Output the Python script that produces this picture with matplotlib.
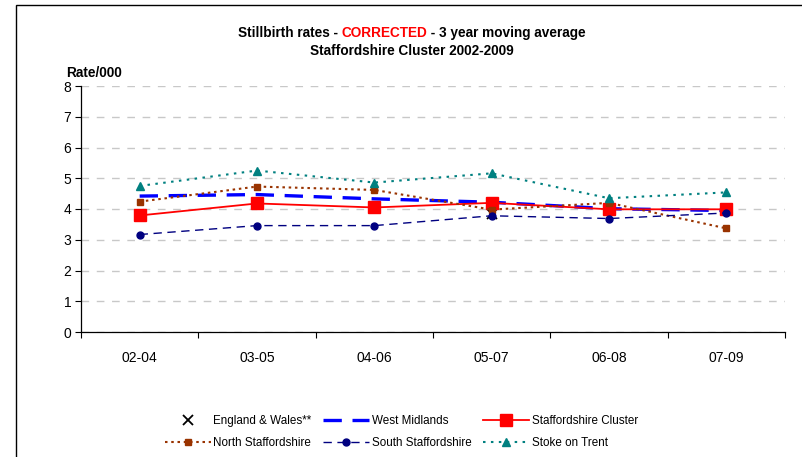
import numpy as np
import matplotlib
matplotlib.use("Agg")
import matplotlib.pyplot as plt
from matplotlib.patches import Rectangle

plt.rcParams["font.family"] = ["Liberation Sans", "DejaVu Sans"]

periodos = ["02-04", "03-05", "04-06", "05-07", "06-08", "07-09"]

england_wales = [np.nan, np.nan, np.nan, 3.85, np.nan, np.nan]
west_midlands = [4.42, 4.47, 4.33, 4.22, 4.01, 3.95]
staffs_cluster = [3.79, 4.18, 4.05, 4.20, 3.99, 3.99]
north_staffs = [4.24, 4.73, 4.62, 3.98, 4.20, 3.37]
south_staffs = [3.17, 3.46, 3.46, 3.78, 3.69, 3.87]
stoke = [4.75, 5.25, 4.86, 5.16, 4.35, 4.54]

W, H = 803, 457
fig = plt.figure(figsize=(W / 100, H / 100), dpi=100)

# marco exterior del gráfico (recortado a la derecha y abajo)
fig.patches.append(Rectangle((16 / W, -0.1), 1.2, 1.1 - 5 / H, transform=fig.transFigure,
                             fill=False, edgecolor="black", lw=1.0))

ax = fig.add_axes([81 / W, 1 - 332 / H, (785 - 81) / W, (332 - 86) / H])
x = np.arange(len(periodos))

ax.plot(x, england_wales, ls="none", marker="x", ms=7, mew=1.3, color="black",
        label="England & Wales**")
ax.plot(x, west_midlands, color="#0000FF", lw=2.4, ls=(0, (5.5, 3.2)),
        label="West Midlands")
ax.plot(x, staffs_cluster, color="#FF0000", lw=1.3, marker="s", ms=8,
        label="Staffordshire Cluster")
ax.plot(x, north_staffs, color="#993300", lw=1.5, ls=(0, (1.2, 1.8)), marker="s", ms=5,
        label="North Staffordshire")
ax.plot(x, south_staffs, color="#000080", lw=1.0, ls=(0, (6, 4)), marker="o", ms=5,
        label="South Staffordshire")
ax.plot(x, stoke, color="#008080", lw=1.5, ls=(0, (1.2, 2.6)), marker="^", ms=5.5,
        label="Stoke on Trent")

ax.set_ylim(0, 8)
ax.set_xlim(-0.5, len(periodos) - 0.5)
ax.set_yticks(range(0, 9))
ax.set_xticks(x)
ax.set_xticklabels(periodos)
ax.set_xticks(np.arange(-0.5, len(periodos)), minor=True)
ax.tick_params(axis="x", which="major", length=0, pad=14, labelsize=10)
ax.tick_params(axis="x", which="minor", length=4, width=0.8, direction="out")
ax.tick_params(axis="y", length=4, width=0.8, direction="out", labelsize=10, pad=3)
for s in ("top", "right"):
    ax.spines[s].set_visible(False)
for s in ("left", "bottom"):
    ax.spines[s].set_linewidth(0.9)
ax.yaxis.grid(True, color="#C8C8C8", lw=1.0, ls=(0, (5.5, 5.5)))
ax.set_axisbelow(True)

fig.text(66 / W, 1 - 73 / H, "Rate/000", fontsize=9.8, fontweight="bold", va="center")

# título con "CORRECTED" en rojo
fig.canvas.draw()
rend = fig.canvas.get_renderer()
partes = [("Stillbirth rates - ", "black"), ("CORRECTED", "#FF0000"),
          (" - 3 year moving average", "black")]
textos = [fig.text(0, 1 - 33 / H, p, fontsize=9.8, fontweight="bold", color=c, va="center")
          for p, c in partes]
anchos = [t.get_window_extent(rend).width for t in textos]
x0 = 412 - sum(anchos) / 2
for t, w in zip(textos, anchos):
    t.set_x(x0 / W)
    x0 += w
fig.text(412 / W, 1 - 51 / H, "Staffordshire Cluster 2002-2009", fontsize=9.8,
         fontweight="bold", ha="center", va="center")

h, l = ax.get_legend_handles_labels()
orden = [0, 3, 1, 4, 2, 5]
fig.legend([h[i] for i in orden], [l[i] for i in orden], ncol=3, loc="center",
           bbox_to_anchor=(0.5, 1 - 432 / H), frameon=False, fontsize=8.4,
           handlelength=3.9, handletextpad=0.25, columnspacing=1.0, labelspacing=0.85)

fig.savefig("out.png", dpi=100)
